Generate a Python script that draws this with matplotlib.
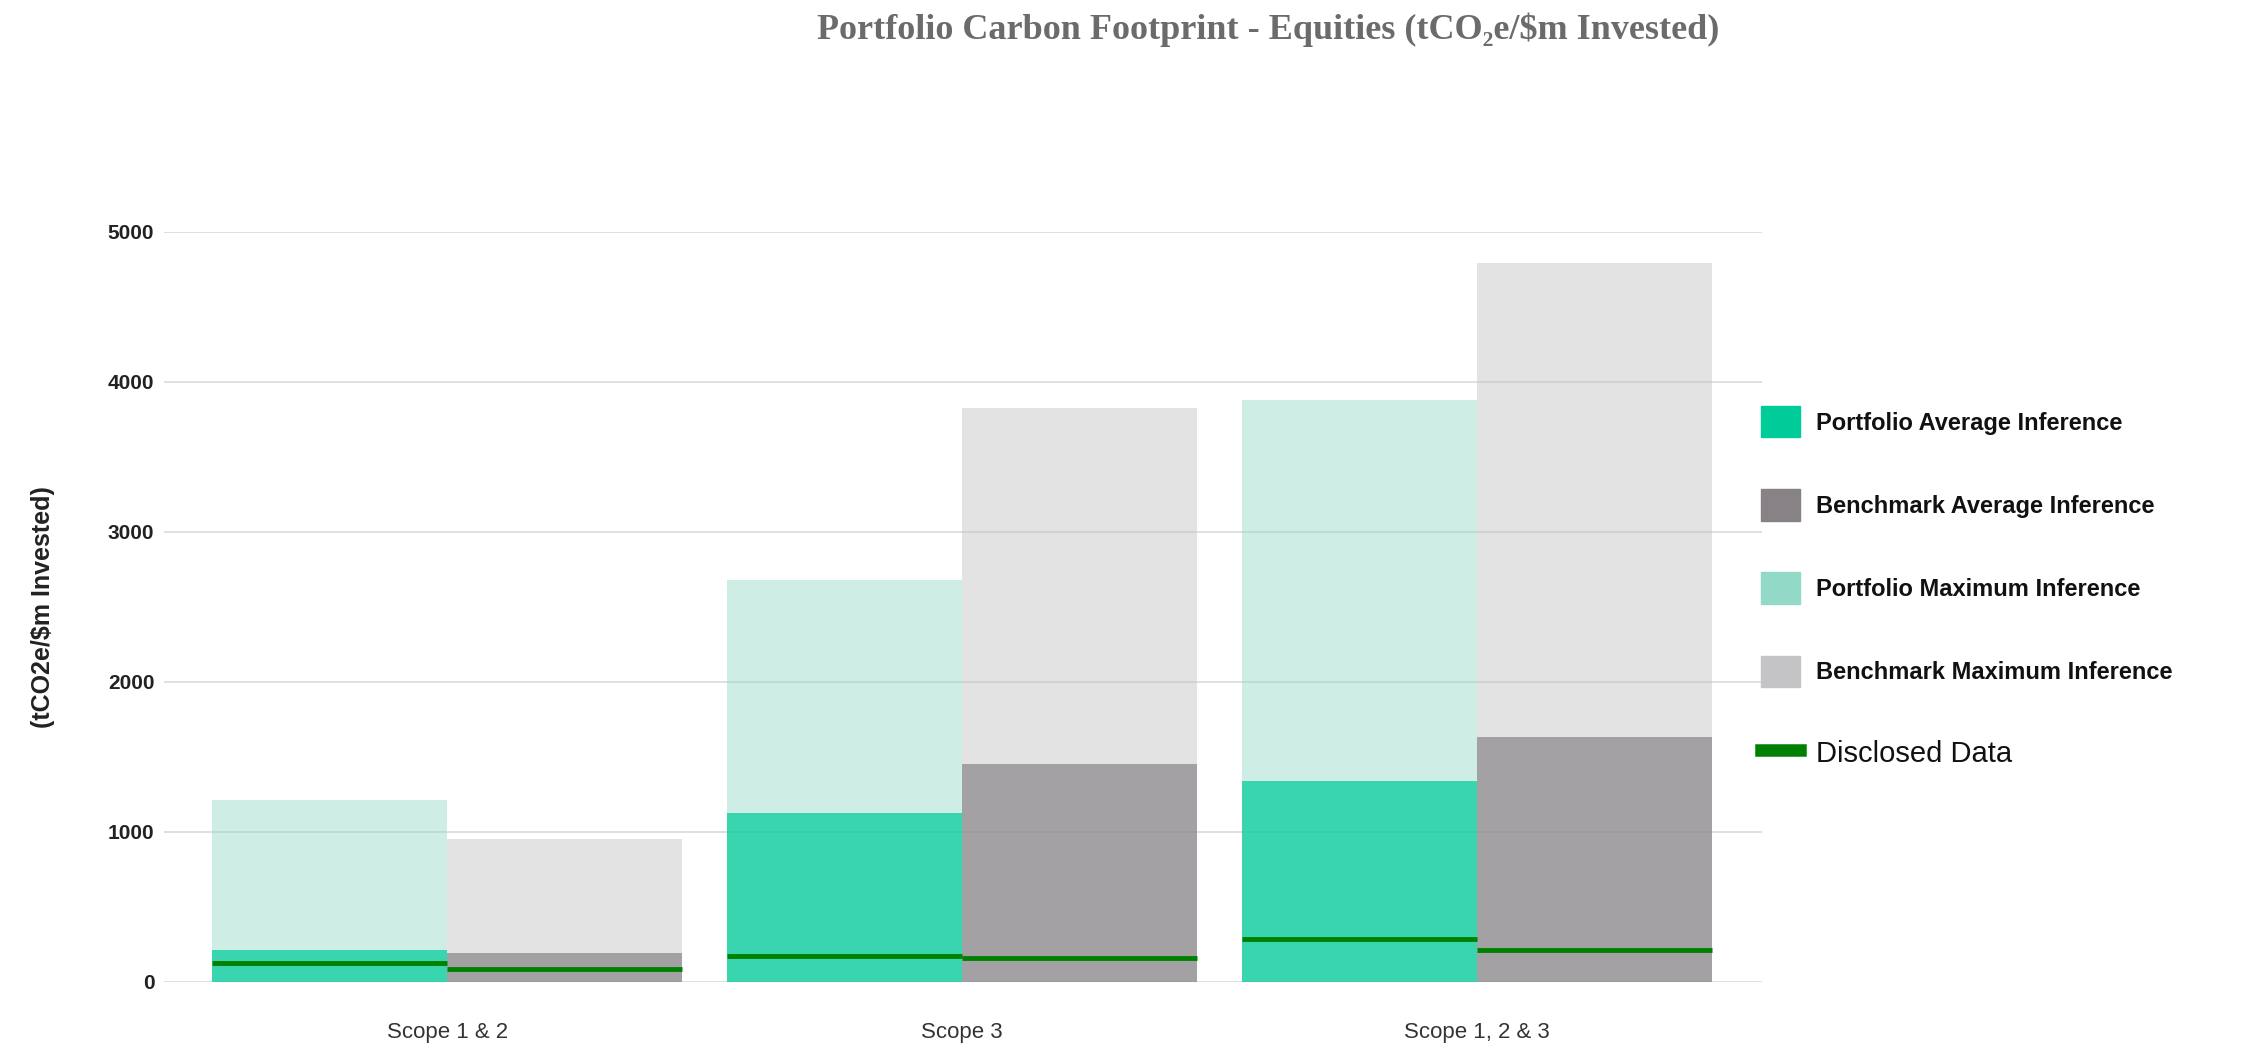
import matplotlib.pyplot as plt
from matplotlib.patches import Patch
from matplotlib.lines import Line2D
import numpy as np

DPI = 100
WIDTH = 2248
HEIGHT = 1051

categories = ["Scope 1 & 2", "Scope 3", "Scope 1, 2 & 3"]
portfolio_max = [1210, 2680, 3880]
portfolio_avg = [215, 1125, 1340]
benchmark_max = [955, 3825, 4790]
benchmark_avg = [195, 1455, 1635]
portfolio_disclosed = [125, 175, 285]
benchmark_disclosed = [85, 160, 210]

C_PAVG = "#00cc99"
C_BAVG = "#868286"
C_PMAX = "#93d9c7"
C_BMAX = "#c4c4c6"
C_DISC = "#008000"

plt.rcParams["font.family"] = ["Liberation Sans", "DejaVu Sans"]

fig = plt.figure(figsize=(WIDTH / DPI, HEIGHT / DPI), dpi=DPI)
ax = fig.add_axes([0.073, 0.0657, 0.7108, 0.7136])

x = np.arange(len(categories))
w = 0.4565
xp = x - w / 2
xb = x + w / 2

ax.bar(xp, portfolio_max, width=w, color=C_PMAX, alpha=0.45, zorder=2)
ax.bar(xb, benchmark_max, width=w, color=C_BMAX, alpha=0.47, zorder=2)
ax.bar(xp, portfolio_avg, width=w, color=C_PAVG, alpha=0.72, zorder=3)
ax.bar(xb, benchmark_avg, width=w, color=C_BAVG, alpha=0.68, zorder=3)
ax.hlines(portfolio_disclosed, xp - w / 2, xp + w / 2, color=C_DISC, lw=3.5, zorder=4)
ax.hlines(benchmark_disclosed, xb - w / 2, xb + w / 2, color=C_DISC, lw=3.5, zorder=4)

ax.set_xlim(-0.5495, 2.553)
ax.set_ylim(0, 5000)
ax.set_yticks([0, 1000, 2000, 3000, 4000, 5000])
ax.set_xticks(x)
ax.set_xticklabels(categories)
ax.yaxis.grid(True, color="#e0e0e0", lw=1.4, zorder=1)
ax.set_axisbelow(True)
for s in ax.spines.values():
    s.set_visible(False)
ax.tick_params(axis="y", length=0, pad=7, labelsize=15, labelcolor="#222222")
ax.tick_params(axis="x", length=0, pad=29, labelsize=16, labelcolor="#333333")
for t in ax.get_yticklabels():
    t.set_fontweight("bold")

ax.set_ylabel("(tCO2e/$m Invested)", fontsize=18, fontweight="bold", color="#222222")
ax.yaxis.set_label_coords(-0.068, 0.5)

fig.text(0.564, 0.972, "Portfolio Carbon Footprint - Equities (tCO\u2082e/$m Invested)",
         ha="center", va="center", fontsize=26, fontweight="bold",
         family=["Liberation Serif", "DejaVu Serif"], color="#6b6b6b")

handles = [
    Patch(color=C_PAVG),
    Patch(color=C_BAVG),
    Patch(color=C_PMAX),
    Patch(color=C_BMAX),
    Line2D([0], [0], color=C_DISC, lw=9),
]
labels = [
    "Portfolio Average Inference",
    "Benchmark Average Inference",
    "Portfolio Maximum Inference",
    "Benchmark Maximum Inference",
    "Disclosed Data",
]
leg = fig.legend(handles, labels, loc="center left", bbox_to_anchor=(0.779, 0.4405),
                 frameon=False, handlelength=1.65, handleheight=1.65,
                 handletextpad=0.7, labelspacing=2.2, borderaxespad=0,
                 prop={"size": 17, "weight": "bold"})
for t in leg.get_texts():
    t.set_color("#111111")
leg.get_texts()[-1].set_fontweight("normal")
leg.get_texts()[-1].set_fontsize(21)

fig.savefig("out.png", dpi=DPI)
plt.close()
